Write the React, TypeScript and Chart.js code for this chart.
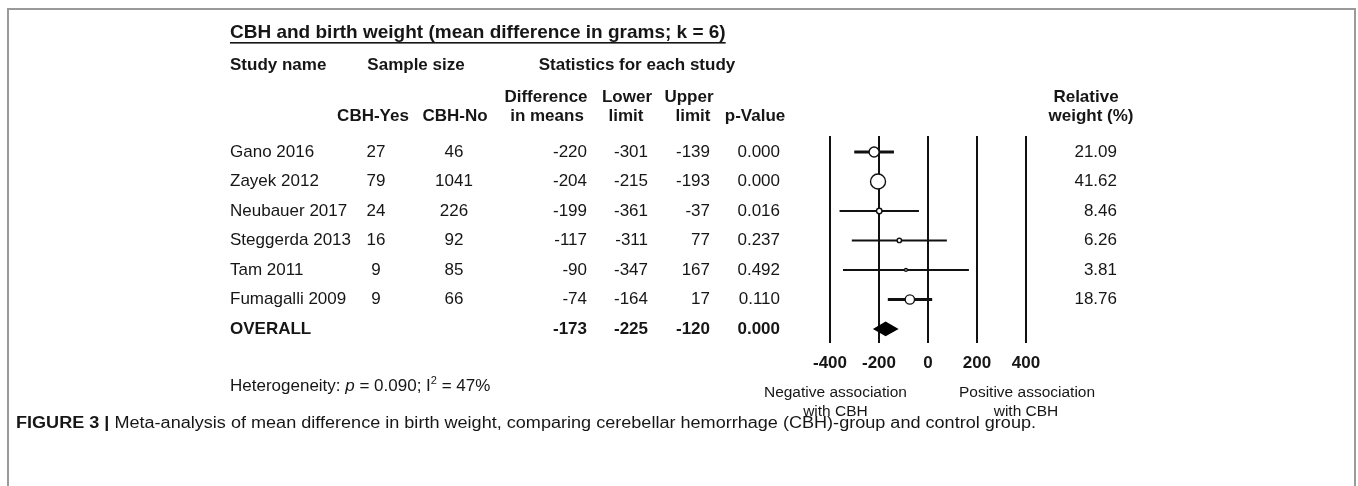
import React, { useEffect, useRef } from "react";
import { Chart, registerables } from "chart.js";

Chart.register(...registerables);

// ---------- data ----------
const studies = ["Gano 2016", "Zayek 2012", "Neubauer 2017", "Steggerda 2013", "Tam 2011", "Fumagalli 2009"];
const cbhYes = [27, 79, 24, 16, 9, 9];
const cbhNo = [46, 1041, 226, 92, 85, 66];
const diffMeans = [-220, -204, -199, -117, -90, -74];
const lowerLimit = [-301, -215, -361, -311, -347, -164];
const upperLimit = [-139, -193, -37, 77, 167, 17];
const pValues = ["0.000", "0.000", "0.016", "0.237", "0.492", "0.110"];
const relWeight = [21.09, 41.62, 8.46, 6.26, 3.81, 18.76];

const overallLabel = "OVERALL";
const overallDiff = -173;
const overallLower = -225;
const overallUpper = -120;
const overallP = "0.000";

const xTicks = [-400, -200, 0, 200, 400];

const titleText = "CBH and birth weight (mean difference in grams; k = 6)";
const captionBold = "FIGURE 3 |";
const captionText =
  " Meta-analysis of mean difference in birth weight, comparing cerebellar hemorrhage (CBH)-group and control group.";

// ---------- styling ----------
const FONT = '"Liberation Sans", Arial, Helvetica, sans-serif';
const INK = "#161616";

const markerRadius = (w: number) => Math.max(1.4, 1.35 * Math.sqrt(w) - 1.2);
const ciWidth = (w: number) => (w > 15 ? 3 : 2);

const tablePlugin = {
  id: "forestTable",
  afterDraw(chart: any) {
    const ctx: CanvasRenderingContext2D = chart.ctx;
    const ys = chart.scales.y;
    const xs = chart.scales.x;
    ctx.save();
    ctx.fillStyle = INK;
    ctx.textBaseline = "middle";

    const put = (s: string, x: number, y: number, align: CanvasTextAlign, font: string) => {
      ctx.font = font;
      ctx.textAlign = align;
      ctx.fillText(s, x, y);
    };
    const B17 = `bold 17px ${FONT}`;
    const R17 = `17px ${FONT}`;

    // title with underline
    ctx.font = `bold 19px ${FONT}`;
    ctx.textAlign = "left";
    ctx.fillText(titleText, 230, 33);
    const tw = ctx.measureText(titleText).width;
    ctx.fillRect(230, 42, tw, 1.6);

    // header rows
    put("Study name", 230, 65, "left", B17);
    put("Sample size", 416, 65, "center", B17);
    put("Statistics for each study", 637, 65, "center", B17);

    put("CBH-Yes", 373, 116, "center", B17);
    put("CBH-No", 455, 116, "center", B17);
    put("Difference", 546, 97, "center", B17);
    put("in means", 547, 116, "center", B17);
    put("Lower", 627, 97, "center", B17);
    put("limit", 626, 116, "center", B17);
    put("Upper", 689, 97, "center", B17);
    put("limit", 693, 116, "center", B17);
    put("p-Value", 755, 116, "center", B17);
    put("Relative", 1086, 97, "center", B17);
    put("weight (%)", 1091, 116, "center", B17);

    // study rows
    studies.forEach((name, i) => {
      const y = ys.getPixelForValue(i);
      put(name, 230, y, "left", R17);
      put(String(cbhYes[i]), 376, y, "center", R17);
      put(String(cbhNo[i]), 454, y, "center", R17);
      put(String(diffMeans[i]), 587, y, "right", R17);
      put(String(lowerLimit[i]), 648, y, "right", R17);
      put(String(upperLimit[i]), 710, y, "right", R17);
      put(pValues[i], 780, y, "right", R17);
      put(relWeight[i].toFixed(2), 1117, y, "right", R17);
    });

    // overall row
    const yo = ys.getPixelForValue(studies.length);
    put(overallLabel, 230, yo, "left", B17);
    put(String(overallDiff), 587, yo, "right", B17);
    put(String(overallLower), 648, yo, "right", B17);
    put(String(overallUpper), 710, yo, "right", B17);
    put(overallP, 780, yo, "right", B17);

    // heterogeneity line
    let hx = 230;
    const hy = 386;
    const seg = (s: string, font: string, dy = 0) => {
      ctx.font = font;
      ctx.textAlign = "left";
      ctx.fillText(s, hx, hy + dy);
      hx += ctx.measureText(s).width;
    };
    seg("Heterogeneity: ", R17);
    seg("p", `italic 17px ${FONT}`);
    seg(" = 0.090; I", R17);
    seg("2", `11px ${FONT}`, -5);
    seg(" = 47%", R17);

    // association labels under axis
    const R15 = `15.5px ${FONT}`;
    const negX = (xs.getPixelForValue(-400) + xs.getPixelForValue(-380)) / 2 + 3;
    const posX = xs.getPixelForValue(400);
    put("Negative association", negX, 393, "center", R15);
    put("with CBH", negX, 412, "center", R15);
    put("Positive association", posX + 1, 393, "center", R15);
    put("with CBH", posX, 412, "center", R15);

    // caption
    const capFontB = `bold 16px ${FONT}`;
    const capFontR = `16px ${FONT}`;
    ctx.font = capFontB;
    const wb = ctx.measureText(captionBold).width;
    ctx.font = capFontR;
    const wr = ctx.measureText(captionText).width;
    const targetW = 1036 - 16;
    const sx = targetW / (wb + wr);
    ctx.save();
    ctx.translate(16, 424);
    ctx.scale(sx, 1);
    ctx.textAlign = "left";
    ctx.font = capFontB;
    ctx.fillText(captionBold, 0, 0);
    ctx.font = capFontR;
    ctx.fillText(captionText, wb, 0);
    ctx.restore();

    ctx.restore();
  },
};

const diamondPlugin = {
  id: "overallDiamond",
  afterDatasetsDraw(chart: any) {
    const ctx: CanvasRenderingContext2D = chart.ctx;
    const xs = chart.scales.x;
    const ys = chart.scales.y;
    const r = studies.length;
    const yc = ys.getPixelForValue(r);
    const yt = ys.getPixelForValue(r - 0.25);
    const yb = ys.getPixelForValue(r + 0.25);
    ctx.save();
    ctx.fillStyle = "#000";
    ctx.beginPath();
    ctx.moveTo(xs.getPixelForValue(overallLower), yc);
    ctx.lineTo(xs.getPixelForValue(overallDiff), yt);
    ctx.lineTo(xs.getPixelForValue(overallUpper), yc);
    ctx.lineTo(xs.getPixelForValue(overallDiff), yb);
    ctx.closePath();
    ctx.fill();
    ctx.restore();
  },
};

export default function App() {
  const canvasRef = useRef<HTMLCanvasElement | null>(null);

  useEffect(() => {
    if (!canvasRef.current) return;
    const ciSets = studies.map((name, i) => ({
      label: name + " CI",
      data: [
        { x: lowerLimit[i], y: i },
        { x: upperLimit[i], y: i },
      ],
      showLine: true,
      borderColor: "#111",
      borderWidth: ciWidth(relWeight[i]),
      pointRadius: 0,
      pointHoverRadius: 0,
      order: 2,
    }));
    const pointSet = {
      label: "Difference in means",
      data: diffMeans.map((d, i) => ({ x: d, y: i })),
      showLine: false,
      pointRadius: (c: any) => markerRadius(relWeight[c.dataIndex]),
      pointHoverRadius: (c: any) => markerRadius(relWeight[c.dataIndex]),
      pointBackgroundColor: "#fff",
      pointBorderColor: "#111",
      pointBorderWidth: 1.4,
      order: 1,
      clip: false as any,
    };

    const chart = new Chart(canvasRef.current, {
      type: "scatter",
      data: { datasets: [...ciSets, pointSet] as any },
      options: {
        responsive: false,
        animation: false,
        devicePixelRatio: 1,
        events: [],
        layout: { padding: { left: 830, right: 332, top: 136, bottom: 103 } },
        plugins: {
          legend: { display: false },
          tooltip: { enabled: false },
          title: { display: false },
        },
        scales: {
          x: {
            type: "linear",
            min: -400,
            max: 400,
            afterBuildTicks: (s: any) => {
              s.ticks = xTicks.map((v) => ({ value: v }));
            },
            afterFit: (s: any) => {
              s.height = 40;
            },
            grid: { color: "#111", lineWidth: 2, drawTicks: false },
            border: { display: false },
            ticks: {
              font: { family: FONT, size: 17, weight: "bold" },
              color: INK,
              padding: 10,
              maxRotation: 0,
              autoSkip: false,
              callback: (v: any) => String(v),
            },
          },
          y: {
            type: "linear",
            min: -0.542,
            max: 6.475,
            reverse: true,
            display: false,
          },
        },
      } as any,
      plugins: [diamondPlugin, tablePlugin],
    });
    return () => chart.destroy();
  }, []);

  return (
    <div
      style={{
        position: "fixed",
        left: 0,
        top: 0,
        width: 1358,
        height: 486,
        overflow: "hidden",
        background: "#fff",
      }}
    >
      <div
        style={{
          position: "absolute",
          left: 7,
          top: 8,
          width: 1349,
          height: 520,
          boxSizing: "border-box",
          borderLeft: "2px solid #9a9a9a",
          borderTop: "2px solid #9a9a9a",
          borderRight: "2px solid #9a9a9a",
        }}
      />
      <canvas
        ref={canvasRef}
        width={1358}
        height={486}
        style={{ position: "absolute", left: 0, top: 0, width: 1358, height: 486 }}
      />
    </div>
  );
}
